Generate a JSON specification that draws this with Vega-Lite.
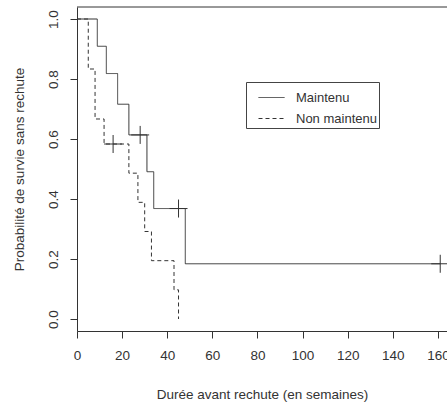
{
  "$schema": "https://vega.github.io/schema/vega-lite/v6.json",
  "width": 370,
  "height": 324,
  "autosize": {"type": "none"},
  "padding": {"left": 77, "top": 7, "right": 0, "bottom": 73},
  "config": {
    "view": {"stroke": null},
    "font": "Liberation Sans",
    "axis": {
      "domainColor": "#333", "tickColor": "#333", "labelColor": "#333", "titleColor": "#333",
      "labelFontSize": 13.5, "titleFontSize": 13.5, "titleFontWeight": "normal",
      "labelFont": "Liberation Sans", "titleFont": "Liberation Sans",
      "grid": false, "tickSize": 7, "labelOverlap": false, "labelFlush": false
    },
    "legend": {"labelFont": "Liberation Sans"}
  },
  "datasets": {
    "km": [
      {"t": 0, "s": 1, "groupe": "Maintenu"},
      {"t": 9, "s": 0.9091, "groupe": "Maintenu"},
      {"t": 13, "s": 0.8182, "groupe": "Maintenu"},
      {"t": 18, "s": 0.7159, "groupe": "Maintenu"},
      {"t": 23, "s": 0.6136, "groupe": "Maintenu"},
      {"t": 31, "s": 0.4909, "groupe": "Maintenu"},
      {"t": 34, "s": 0.3682, "groupe": "Maintenu"},
      {"t": 48, "s": 0.1841, "groupe": "Maintenu"},
      {"t": 161, "s": 0.1841, "groupe": "Maintenu"},
      {"t": 0, "s": 1, "groupe": "Non maintenu"},
      {"t": 5, "s": 0.8333, "groupe": "Non maintenu"},
      {"t": 8, "s": 0.6667, "groupe": "Non maintenu"},
      {"t": 12, "s": 0.5833, "groupe": "Non maintenu"},
      {"t": 23, "s": 0.4861, "groupe": "Non maintenu"},
      {"t": 27, "s": 0.3889, "groupe": "Non maintenu"},
      {"t": 30, "s": 0.2917, "groupe": "Non maintenu"},
      {"t": 33, "s": 0.1944, "groupe": "Non maintenu"},
      {"t": 43, "s": 0.0972, "groupe": "Non maintenu"},
      {"t": 45, "s": 0, "groupe": "Non maintenu"}
    ],
    "cens": [
      {"t": 28, "s": 0.6136, "groupe": "Maintenu"},
      {"t": 45, "s": 0.3682, "groupe": "Maintenu"},
      {"t": 161, "s": 0.1841, "groupe": "Maintenu"},
      {"t": 16, "s": 0.5833, "groupe": "Non maintenu"}
    ]
  },
  "layer": [
    {
      "data": {"name": "km"},
      "mark": {"type": "line", "interpolate": "step-after", "color": "#333", "strokeWidth": 1},
      "encoding": {
        "x": {
          "field": "t", "type": "quantitative",
          "scale": {"domain": [0, 164], "nice": false, "zero": false},
          "axis": {
            "title": "Durée avant rechute (en semaines)",
            "values": [0, 20, 40, 60, 80, 100, 120, 140, 160],
            "labelPadding": 10, "titlePadding": 26
          }
        },
        "y": {
          "field": "s", "type": "quantitative",
          "scale": {"domain": [-0.04, 1.04], "nice": false, "zero": false},
          "axis": {
            "title": "Probabilité de survie sans rechute",
            "values": [0, 0.1, 0.2, 0.3, 0.4, 0.5, 0.6, 0.7, 0.8, 0.9, 1.0],
            "labelExpr": "round(datum.value*10) % 2 == 0 ? format(datum.value, '.1f') : ''",
            "labelAngle": 270, "labelAlign": "center", "labelBaseline": "bottom",
            "labelPadding": 10, "titlePadding": 20
          }
        },
        "strokeDash": {
          "field": "groupe", "type": "nominal",
          "scale": {"domain": ["Maintenu", "Non maintenu"], "range": [[1, 0], [4, 3]]},
          "legend": {
            "title": null, "orient": "none", "legendX": 169, "legendY": 75,
            "strokeColor": "#444", "padding": 2, "symbolOffset": 10,
            "symbolSize": 676, "symbolStrokeColor": "#333", "symbolStrokeWidth": 1,
            "labelOffset": 11, "labelFontSize": 13, "labelColor": "#333", "rowPadding": -10,
            "labelExpr": "datum.label + '\u00a0\u00a0\u00a0'"
          }
        }
      }
    },
    {
      "data": {"name": "cens"},
      "mark": {"type": "point", "shape": "M-1,0L1,0M0,-1L0,1", "filled": false, "stroke": "#333", "strokeWidth": 1, "size": 324, "opacity": 1},
      "encoding": {
        "x": {"field": "t", "type": "quantitative"},
        "y": {"field": "s", "type": "quantitative"}
      }
    },
    {
      "data": {"values": [{}]},
      "mark": {"type": "rule", "color": "#333", "strokeWidth": 1},
      "encoding": {"y": {"datum": 1.04}}
    }
  ]
}
